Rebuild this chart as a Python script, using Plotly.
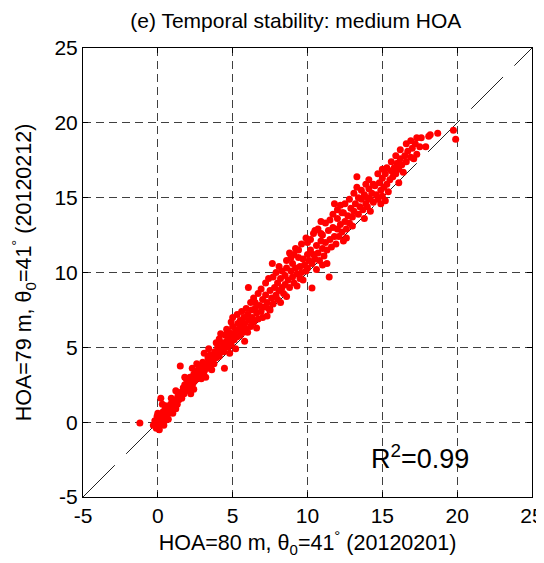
import plotly.graph_objects as go

# HOA=80 m (20120201) vs HOA=79 m (20120212)
hoa80 = [
    -1.2, -0.3, -0.2, -0.1, 0.0, 0.05, 0.1, 0.15, 0.2, 0.25, 0.3, 0.35, 0.4, 0.45, 0.5, 0.5, 0.55, 0.6,
    0.65, 0.7, 0.75, 0.8, 0.85, 0.9, 0.95, 1.0, 1.05, 1.1, 1.15, 1.2, 1.3, 1.35, 1.4, 0.2, 0.3, -0.05, 0.1,
    1.5, 1.5, 1.55, 1.6, 1.7, 1.75, 1.8, 1.85, 1.9, 2.0, 2.0, 2.1, 2.15, 2.2, 2.3, 2.35, 2.4, 2.5, 2.5,
    2.6, 2.7, 2.75, 2.8, 2.9, 3.0, 3.0, 3.1, 3.2, 3.3, 3.35, 3.4, 3.5, 3.5, 3.6, 3.7, 3.75, 3.8, 3.9,
    4.0, 4.0, 2.2, 2.9, 3.6,
    4.1, 4.1, 4.2, 4.3, 4.4, 4.45, 4.5, 4.5, 4.6, 4.7, 4.75, 4.8, 4.9, 5.0, 5.0, 5.1, 5.2, 5.3, 5.35,
    5.4, 5.5, 5.5, 5.6, 5.7, 5.75, 5.8, 5.9, 6.0, 6.05, 6.1, 6.2, 6.25, 6.3, 6.4, 6.5, 6.5, 6.6, 6.7,
    6.8, 6.9, 7.0, 7.0, 5.2, 5.8, 6.6, 4.9,
    7.1, 7.2, 7.3, 7.4, 7.5, 7.6, 7.65, 7.7, 7.8, 7.9, 8.0, 8.0, 8.1, 8.2, 8.3, 8.4, 8.5, 8.5, 8.6, 8.7,
    8.8, 8.9, 9.0, 9.0, 9.1, 9.2, 9.3, 9.4, 9.5, 9.5, 9.6, 9.7, 9.8, 9.9, 10.0, 10.0, 10.0, 8.2, 8.8,
    9.2, 7.5, 9.7,
    10.1, 10.2, 10.3, 10.3, 10.4, 10.5, 10.5, 10.6, 10.7, 10.8, 10.9, 11.0, 11.0, 11.1, 11.2, 11.3, 11.4,
    11.45, 11.5, 11.6, 11.7, 11.8, 11.8, 11.9, 12.0, 12.0, 12.1, 12.2, 12.3, 12.4, 12.5, 12.6, 12.7, 12.8,
    12.9, 13.0, 13.0, 10.9, 12.2, 11.3, 12.6,
    13.1, 13.2, 13.3, 13.3, 13.4, 13.5, 13.6, 13.7, 13.8, 13.9, 14.0, 14.0, 14.1, 14.2, 14.3, 14.4, 14.5,
    14.6, 14.7, 14.8, 14.9, 15.0, 15.0, 15.1, 15.2, 15.3, 15.4, 15.5, 15.6, 15.7, 15.8, 15.9, 16.0, 14.2,
    15.2,
    16.1, 16.2, 16.3, 16.5, 16.6, 16.7, 16.9, 17.0, 17.1, 17.2, 17.5, 17.6, 17.9, 18.1, 18.2, 18.7, 19.75,
    19.9, 16.4, 17.3,
    1.2, 1.8, 2.3, 2.6, 3.1, 3.4, 3.9, 4.2, 4.6, 5.0, 5.3, 5.6, 5.9, 6.2, 6.4, 6.7, 6.9, 7.2, 7.4, 7.7,
    7.9, 8.1, 8.3, 8.6, 8.9, 9.1, 9.4, 9.6, 9.9, 10.2, 10.4, 10.7, 10.9, 11.2, 11.5, 11.7, 12.0, 12.3,
    12.5, 12.8, 13.1, 13.4, 13.6, 13.9, 14.1, 14.4, 14.7, 15.0, 15.3, 15.6, 15.9, 16.2, 16.6, 16.9, 17.3,
    6.0, 8.6, 11.0, 13.8, 3.2, 2.4, 1.9, 4.8, 7.3, 9.3, 10.6, 12.4, 14.9, 16.1, 0.7, 0.9, 1.0, 1.2, 0.4,
    0.0,
]
hoa79 = [
    -0.05, -0.2, 0.1, -0.4, 0.0, -0.2, 0.3, 0.1, -0.1, 0.5, 0.2, 0.7, 0.4, 0.1, 0.9, 1.1, 0.5, 0.3,
    0.8, 1.0, 0.6, 0.9, 1.2, 0.7, 1.0, 1.3, 0.9, 1.5, 1.1, 1.4, 1.2, 1.8, 1.5, 1.6, 1.2, 0.4, -0.5,
    1.7, 3.75, 2.0, 1.6, 2.3, 1.9, 2.5, 2.1, 2.4, 2.2, 2.8, 2.5, 3.0, 2.4, 2.9, 2.6, 3.2, 2.8, 3.4,
    3.0, 3.5, 3.1, 3.7, 3.3, 3.6, 4.0, 3.4, 3.9, 3.6, 4.3, 4.0, 3.7, 4.5, 4.1, 4.4, 3.9, 4.7, 4.3,
    4.6, 5.0, 1.9, 2.9, 3.5,
    5.55, 4.4, 4.9, 5.3, 4.7, 3.6, 5.1, 5.8, 5.4, 5.0, 6.0, 5.6, 5.2, 5.9, 6.4, 5.5, 6.1, 5.7, 6.6,
    6.2, 5.8, 6.8, 6.4, 6.0, 7.0, 6.6, 6.2, 7.2, 9.0, 6.8, 6.4, 7.5, 7.0, 6.7, 7.6, 8.0, 7.3, 6.9,
    7.8, 7.4, 8.2, 7.0, 4.9, 5.4, 6.3, 6.7,
    7.7, 8.5, 8.0, 7.6, 8.8, 8.3, 10.6, 7.9, 9.0, 8.5, 8.2, 9.3, 8.8, 9.6, 9.0, 8.6, 9.8, 9.2, 10.3, 9.5,
    9.0, 10.1, 9.7, 10.6, 9.3, 10.3, 9.9, 11.0, 10.4, 9.6, 10.0, 10.9, 10.5, 10.1, 11.2, 10.3, 12.0, 8.0,
    11.3, 11.6, 7.5, 9.5,
    10.8, 11.5, 8.96, 10.6, 11.2, 12.8, 10.9, 11.8, 11.3, 10.8, 12.1, 11.6, 12.5, 11.1, 12.0, 11.5, 12.8,
    9.7, 12.2, 11.7, 13.0, 14.6, 12.4, 11.9, 12.9, 13.6, 12.4, 13.2, 12.7, 14.0, 13.4, 12.9, 13.8, 13.3,
    14.3, 13.7, 13.1, 13.4, 14.5, 10.6, 12.3,
    14.1, 14.6, 16.4, 15.7, 13.9, 14.4, 14.9, 14.2, 15.2, 14.6, 15.0, 14.4, 15.6, 14.9, 15.3, 14.7, 15.8,
    15.2, 14.9, 16.0, 15.5, 15.1, 16.3, 15.7, 16.6, 15.9, 15.4, 16.2, 16.8, 16.4, 17.0, 16.6, 17.3, 14.1,
    14.8,
    16.9, 17.6, 17.2, 17.8, 17.4, 18.1, 17.7, 18.3, 17.6, 18.6, 18.4, 19.0, 18.4, 19.1, 19.2, 19.3, 19.5,
    18.9, 16.7, 17.9,
    2.1, 3.0, 3.6, 3.9, 4.6, 4.9, 5.3, 5.9, 6.2, 7.0, 7.2, 7.4, 7.6, 8.0, 8.3, 8.6, 8.9, 9.3, 9.6, 9.7,
    10.0, 10.4, 10.1, 10.8, 11.0, 11.2, 11.5, 11.9, 12.3, 12.2, 12.6, 12.9, 12.6, 13.3, 13.5, 13.9, 14.2, 14.0,
    14.6, 14.9, 15.3, 15.0, 15.5, 15.9, 16.2, 15.9, 16.6, 16.9, 17.0, 17.4, 17.8, 18.2, 18.6, 18.8, 19.0,
    6.0, 8.4, 10.5, 13.6, 3.0, 2.2, 2.9, 4.6, 7.1, 9.1, 10.2, 12.1, 14.6, 16.0, 0.2, 1.6, 0.6, 0.9, -0.2,
    0.6,
]
one_to_one = [-5, 25]
tick_vals = [-5, 0, 5, 10, 15, 20, 25]
tick_text = ["-5", "0", "5", "10", "15", "20", "25"]
title_text = "(e) Temporal stability: medium HOA"
x_label = "HOA=80 m, θ<sub>0</sub>=41<sup>°</sup> (20120201)"
y_label = "HOA=79 m, θ<sub>0</sub>=41<sup>°</sup> (20120212)"
r2_text = "R<sup>2</sup>=0.99"

FONT = "Liberation Sans, Arial, sans-serif"

fig = go.Figure()
fig.add_trace(go.Scatter(
    x=one_to_one, y=one_to_one, mode="lines",
    line=dict(color="#222222", width=1, dash="45px,16px"),
    hoverinfo="skip", showlegend=False,
))
fig.add_trace(go.Scatter(
    x=hoa80, y=hoa79, mode="markers",
    marker=dict(color="#ff0000", size=7, line=dict(width=0)),
    showlegend=False,
))

axis_common = dict(
    range=[-5, 25], tickvals=tick_vals, ticktext=tick_text, ticks="inside", ticklen=5,
    tickcolor="black", showline=True, linecolor="black", linewidth=1, mirror="ticks",
    showgrid=True, gridcolor="rgba(0,0,0,0.75)", gridwidth=1, griddash="8px,5px",
    zeroline=False, automargin=False, tickfont=dict(family=FONT, size=21, color="black"),
)

# the page body adds an 8 px offset, so the figure is 8 px smaller on each axis
fig.update_layout(
    width=536, height=555,
    margin=dict(l=75, r=12, t=40, b=66),
    paper_bgcolor="white", plot_bgcolor="white",
    title=dict(text=title_text, x=0.537, xanchor="center", y=0.978, yanchor="middle",
               font=dict(family=FONT, size=21, color="black")),
    xaxis=dict(**axis_common,
               title=dict(text=x_label, standoff=6, font=dict(family=FONT, size=21.5, color="black"))),
    yaxis=dict(**axis_common,
               title=dict(text=y_label, standoff=22, font=dict(family=FONT, size=21.5, color="black"))),
    annotations=[dict(
        x=17.5, y=-2.3, xref="x", yref="y", text=r2_text, showarrow=False,
        font=dict(family=FONT, size=27, color="black"),
    )],
)

fig.write_html("out.html")
